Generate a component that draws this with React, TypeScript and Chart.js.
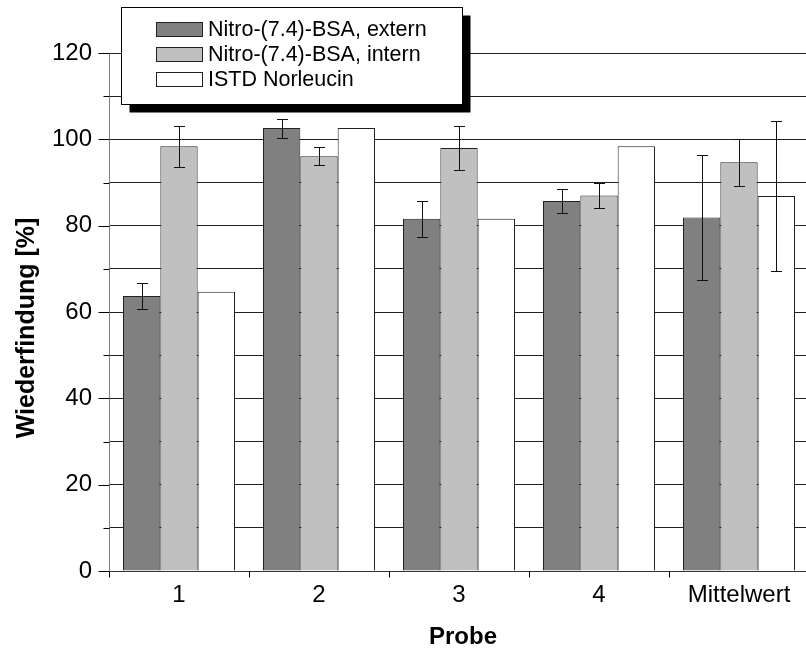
import React, { useEffect, useRef } from "react";
import { Chart, registerables } from "chart.js";

Chart.register(...registerables);

const categories = ["1", "2", "3", "4", "Mittelwert"];
const seriesLabels = ["Nitro-(7.4)-BSA, extern", "Nitro-(7.4)-BSA, intern", "ISTD Norleucin"];
const externValues = [63.7, 102.6, 81.6, 85.7, 81.9];
const externErrors = [3.1, 2.2, 4.2, 2.8, 14.4];
const internValues = [98.4, 96.1, 98.0, 87.0, 94.7];
const internErrors = [4.8, 2.1, 5.2, 2.9, 5.4];
const istdValues = [64.7, 102.6, 81.6, 98.4, 86.9];
const istdErrors = [0, 0, 0, 0, 17.3];
const seriesColors = ["#808080", "#c0c0c0", "#ffffff"];
const yMin = 0;
const yMax = 120;
const yStep = 10;
const yLabelStep = 20;
const xTitle = "Probe";
const yTitle = "Wiederfindung [%]";

const FONT = "'Liberation Sans', Arial, sans-serif";

const errorsByDataset = [externErrors, internErrors, istdErrors];

const errorBarPlugin = {
  id: "errorBars",
  afterDatasetsDraw(chart: any) {
    const { ctx } = chart;
    const yScale = chart.scales.y;
    ctx.save();
    ctx.strokeStyle = "#111";
    ctx.lineWidth = 1;
    chart.data.datasets.forEach((ds: any, di: number) => {
      const meta = chart.getDatasetMeta(di);
      const errs = errorsByDataset[di];
      meta.data.forEach((bar: any, i: number) => {
        const e = errs[i];
        if (!e) return;
        const v = ds.data[i];
        const x = Math.round(bar.x) + 0.5;
        const yTop = Math.round(yScale.getPixelForValue(v + e)) + 0.5;
        const yBot = Math.round(yScale.getPixelForValue(v - e)) + 0.5;
        ctx.beginPath();
        ctx.moveTo(x, yTop);
        ctx.lineTo(x, yBot);
        ctx.moveTo(x - 5.5, yTop);
        ctx.lineTo(x + 5.5, yTop);
        ctx.moveTo(x - 5.5, yBot);
        ctx.lineTo(x + 5.5, yBot);
        ctx.stroke();
      });
    });
    ctx.restore();
  },
};

const decorPlugin = {
  id: "decor",
  afterDraw(chart: any) {
    const { ctx, chartArea } = chart;
    const yScale = chart.scales.y;
    const xScale = chart.scales.x;
    ctx.save();
    ctx.lineWidth = 1;
    const axX = Math.round(chartArea.left) + 0.5;
    const bottom = Math.round(chartArea.bottom) + 0.5;
    // y axis extension below 0
    ctx.strokeStyle = "#808080";
    ctx.beginPath();
    ctx.moveTo(axX, bottom);
    ctx.lineTo(axX, bottom + 5);
    ctx.stroke();
    // y tick marks
    ctx.strokeStyle = "#000";
    for (let v = yMin; v <= yMax; v += yStep) {
      const y = Math.round(yScale.getPixelForValue(v)) + 0.5;
      const len = v % yLabelStep === 0 ? 11 : 6;
      ctx.beginPath();
      ctx.moveTo(axX - len, y);
      ctx.lineTo(axX, y);
      ctx.stroke();
    }
    // x tick marks at category boundaries
    const step = xScale.getPixelForValue(1) - xScale.getPixelForValue(0);
    for (let i = 0; i <= categories.length; i++) {
      const px = xScale.getPixelForValue(0) - step / 2 + i * step;
      const x = Math.round(px) + 0.5;
      ctx.beginPath();
      ctx.moveTo(x, bottom);
      ctx.lineTo(x, bottom + 6);
      ctx.stroke();
    }
    // axis titles
    ctx.fillStyle = "#000";
    ctx.font = `bold 24px ${FONT}`;
    ctx.textAlign = "center";
    ctx.textBaseline = "alphabetic";
    ctx.fillText(xTitle, (chartArea.left + chartArea.right) / 2 + 4, 644);
    ctx.save();
    ctx.translate(34, (chartArea.top + chartArea.bottom) / 2 + 16);
    ctx.rotate(-Math.PI / 2);
    ctx.font = `bold 25px ${FONT}`;
    ctx.fillText(yTitle, 0, 0);
    ctx.restore();

    // legend
    const bx = 121.5, by = 7.5, bw = 341, bh = 97;
    ctx.fillStyle = "#000";
    ctx.fillRect(bx + 8, by + 8, bw, bh);
    ctx.fillStyle = "#fff";
    ctx.fillRect(bx, by, bw, bh);
    ctx.strokeStyle = "#000";
    ctx.strokeRect(bx, by, bw, bh);
    ctx.font = `21.5px ${FONT}`;
    ctx.textAlign = "left";
    ctx.textBaseline = "middle";
    chart.data.datasets.forEach((ds: any, i: number) => {
      const cy = 29.5 + i * 25;
      ctx.fillStyle = ds.backgroundColor;
      ctx.fillRect(156.5, cy - 7, 46, 14);
      ctx.strokeStyle = "#222";
      ctx.strokeRect(156.5, cy - 7, 46, 14);
      ctx.fillStyle = "#000";
      ctx.fillText(ds.label, 208, cy + 1);
    });
    ctx.restore();
  },
};

export default function App() {
  const canvasRef = useRef<HTMLCanvasElement | null>(null);
  useEffect(() => {
    document.body.style.margin = "0";
    const canvas = canvasRef.current;
    if (!canvas) return;
    const values = [externValues, internValues, istdValues];
    const chart = new Chart(canvas, {
      type: "bar",
      data: {
        labels: categories,
        datasets: seriesLabels.map((label, i) => ({
          label,
          data: values[i],
          backgroundColor: seriesColors[i],
          borderColor: "#222",
          borderWidth: 1,
          categoryPercentage: 0.8,
          barPercentage: 1.0,
        })),
      },
      options: {
        responsive: false,
        animation: false,
        devicePixelRatio: 1,
        layout: { padding: { top: 53, right: 11, left: 0, bottom: 0 } },
        plugins: {
          legend: { display: false },
          tooltip: { enabled: false },
        },
        scales: {
          x: {
            grid: { display: false, drawTicks: false },
            border: { display: true, color: "#333", width: 1 },
            ticks: {
              color: "#000",
              font: { family: FONT, size: 24 },
              padding: 10,
              maxRotation: 0,
              autoSkip: false,
            },
            afterFit: (scale: any) => {
              scale.height = 77;
            },
          },
          y: {
            min: yMin,
            max: yMax,
            grid: { color: "#222", lineWidth: 1, drawTicks: false },
            border: { display: true, color: "#808080", width: 1 },
            ticks: {
              stepSize: yStep,
              color: "#000",
              font: { family: FONT, size: 24 },
              padding: 17,
              callback: (v: any) => (Number(v) % yLabelStep === 0 ? String(v) : ""),
            },
            afterFit: (scale: any) => {
              scale.width = 109;
            },
          },
        },
      },
      plugins: [errorBarPlugin, decorPlugin],
    });
    return () => chart.destroy();
  }, []);
  return (
    <div style={{ width: 806, height: 648, overflow: "hidden", position: "relative" }}>
      <canvas ref={canvasRef} width={820} height={648} style={{ display: "block" }} />
    </div>
  );
}
